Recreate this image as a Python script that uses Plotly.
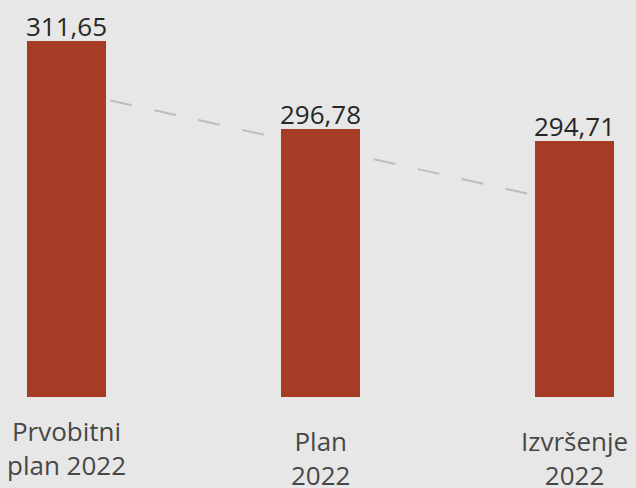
import plotly.graph_objects as go

categories = ["Prvobitni<br>plan 2022", "Plan<br>2022", "Izvršenje<br>2022"]
values = [311.65, 296.78, 294.71]
value_labels = ["311,65", "296,78", "294,71"]
trend_values = [303.22, 293.64, 284.08]

BAR_COLOR = "#a63c25"
BG = "#e7e7e7"
FONT = "Open Sans"

x_idx = list(range(len(categories)))

fig = go.Figure()
fig.add_trace(go.Scatter(
    x=x_idx, y=trend_values, mode="lines",
    line=dict(color="#bdbdbd", width=2, dash="22px,23px"),
    hoverinfo="skip", zorder=0,
))
fig.add_trace(go.Bar(
    x=x_idx, y=values, width=0.311,
    marker=dict(color=BAR_COLOR, line=dict(width=0)),
    hoverinfo="skip", zorder=1,
))

for i, (v, lab) in enumerate(zip(values, value_labels)):
    fig.add_annotation(
        x=i, y=v, xref="x", yref="y", yanchor="bottom", xanchor="center",
        text=lab, showarrow=False, yshift=-5,
        font=dict(family=FONT, size=26, color="#262626"),
    )

label_shift = [0, -10, -10]
for i, lab in enumerate(categories):
    fig.add_annotation(
        x=i, y=0, xref="x", yref="paper", yanchor="top", xanchor="center",
        text=lab, showarrow=False, yshift=-14 + label_shift[i],
        font=dict(family=FONT, size=26, color="#474747"),
    )

fig.update_layout(
    width=636, height=488,
    margin=dict(l=27, r=22, t=0, b=91),
    paper_bgcolor=BG, plot_bgcolor=BG,
    showlegend=False,
    bargap=0,
    xaxis=dict(range=[-0.1555, 2.1555], showticklabels=False, showgrid=False,
               zeroline=False, showline=True, linecolor="#bfbfbf", linewidth=2,
               ticks=""),
    yaxis=dict(range=[251.55, 318.5], visible=False, showgrid=False, zeroline=False),
)

fig.write_html("out.html", config={"displayModeBar": False},
               post_script="document.body.style.margin='0';document.body.style.overflow='hidden';")
